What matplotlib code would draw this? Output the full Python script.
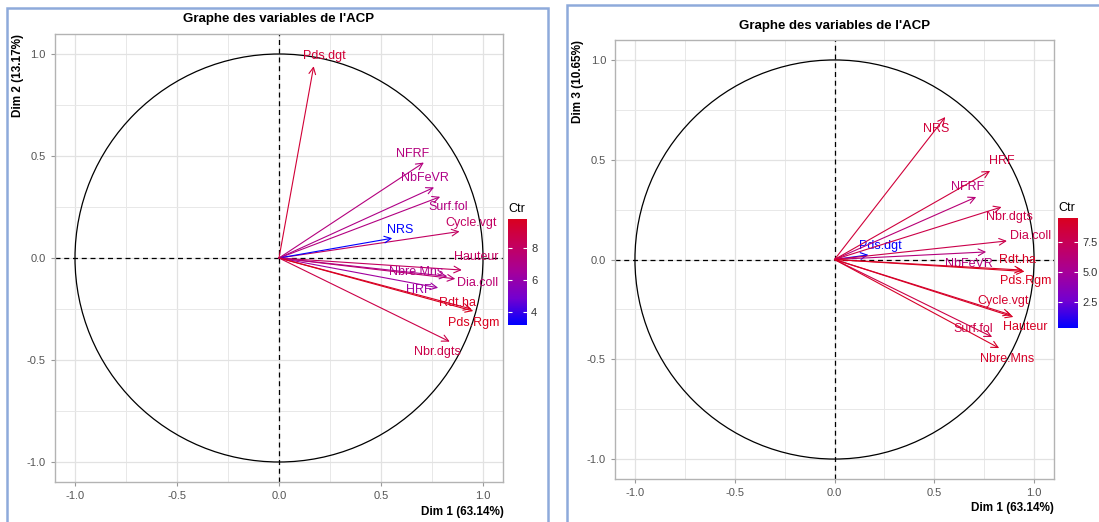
import matplotlib
matplotlib.use("Agg")
import matplotlib.pyplot as plt
from matplotlib.patches import Circle, Rectangle
from matplotlib.colors import LinearSegmentedColormap, Normalize
from matplotlib.cm import ScalarMappable
from matplotlib.ticker import FormatStrFormatter

plt.rcParams['font.family'] = ['Liberation Sans', 'DejaVu Sans']

# coordonnees des variables sur les axes
variables = ["Pds.dgt", "NFRF", "NbFeVR", "Surf.fol", "Cycle.vgt", "NRS", "Hauteur",
             "Nbre.Mns", "Dia.coll", "HRF", "Rdt.ha", "Pds.Rgm", "Nbr.dgts"]
dim1 = [0.17, 0.71, 0.76, 0.79, 0.885, 0.555, 0.896, 0.825, 0.864, 0.78, 0.943, 0.952, 0.837]
dim2 = [0.94, 0.468, 0.346, 0.30, 0.13, 0.097, -0.059, -0.09, -0.102, -0.146, -0.25, -0.26, -0.41]
dim3 = [0.023, 0.313, 0.038, -0.388, -0.278, 0.714, -0.288, -0.444, 0.093, 0.444, -0.053, -0.06, 0.263]

# contributions (Ctr)
ctr12 = [9.20, 7.29, 7.03, 7.20, 8.07, 3.20, 8.13, 6.94, 7.63, 6.35, 9.59, 9.82, 8.75]
ctr13 = [0.31, 6.28, 6.04, 8.08, 8.97, 8.53, 9.24, 9.16, 7.87, 8.40, 9.30, 9.49, 8.02]

pct = {1: "63.14", 2: "13.17", 3: "10.65"}

# decalage des etiquettes par rapport a la pointe des fleches
lab_off12 = {"Pds.dgt": (0.05, 0.05), "NFRF": (-0.054, 0.044), "NbFeVR": (-0.044, 0.044),
             "Surf.fol": (0.038, -0.051), "Cycle.vgt": (0.056, 0.041), "NRS": (0.04, 0.04),
             "Hauteur": (0.069, 0.064), "Nbre.Mns": (-0.154, 0.022), "Dia.coll": (0.108, -0.02),
             "HRF": (-0.094, -0.01), "Rdt.ha": (-0.067, 0.03), "Pds.Rgm": (0.0, -0.057),
             "Nbr.dgts": (-0.06, -0.049)}
lab_off13 = {"Pds.dgt": (0.058, 0.043), "NFRF": (-0.041, 0.05), "NbFeVR": (-0.085, -0.062),
             "Surf.fol": (-0.095, 0.04), "Cycle.vgt": (-0.04, 0.07), "NRS": (-0.045, -0.06),
             "Hauteur": (0.058, -0.05), "Nbre.Mns": (0.04, -0.055), "Dia.coll": (0.117, 0.023),
             "HRF": (0.06, 0.05), "Rdt.ha": (-0.025, 0.048), "Pds.Rgm": (0.005, -0.05),
             "Nbr.dgts": (0.04, -0.05)}

cmap = LinearSegmentedColormap.from_list(
    "ctr", [(0, "#0000FF"), (0.25, "#7300D0"), (0.5, "#A5009A"), (0.75, "#C4005E"), (1, "#D9001F")])

W, H = 1099, 522
fig = plt.figure(figsize=(W / 100, H / 100), dpi=100)


def frac(x0, y0, x1, y1):
    # pixels (origine en haut a gauche) -> fraction de figure
    return [x0 / W, (H - y1) / H, (x1 - x0) / W, (y1 - y0) / H]


def draw_panel(rect, cbrect, ydim, yvals, ctr, offs, cbticks, cbfmt):
    ax = fig.add_axes(frac(*rect))
    ax.set_xlim(-1.1, 1.1)
    ax.set_ylim(-1.1, 1.1)
    ticks = [-1, -0.5, 0, 0.5, 1]
    ax.set_xticks(ticks)
    ax.set_yticks(ticks)
    ax.set_xticklabels(["-1.0", "-0.5", "0.0", "0.5", "1.0"])
    ax.set_yticklabels(["-1.0", "-0.5", "0.0", "0.5", "1.0"])
    ax.set_xticks([-0.75, -0.25, 0.25, 0.75], minor=True)
    ax.set_yticks([-0.75, -0.25, 0.25, 0.75], minor=True)
    ax.grid(which='major', color='#E2E2E2', lw=0.9)
    ax.grid(which='minor', color='#E8E8E8', lw=0.7)
    ax.set_axisbelow(True)
    ax.tick_params(which='major', length=3, color='#999999', labelsize=8, labelcolor='#555555')
    ax.tick_params(which='minor', length=0)
    for s in ax.spines.values():
        s.set_color('#B3B3B3')
        s.set_linewidth(1.0)

    ax.add_patch(Circle((0, 0), 1, fill=False, color='black', lw=0.9))
    ax.axhline(0, color='black', ls=(0, (4, 3)), lw=0.9)
    ax.axvline(0, color='black', ls=(0, (4, 3)), lw=0.9)

    norm = Normalize(min(ctr), max(ctr))
    for name, x, y, c in zip(variables, dim1, yvals, ctr):
        col = cmap(norm(c))
        ax.annotate('', xy=(x, y), xytext=(0, 0),
                    arrowprops=dict(arrowstyle='->', color=col, lw=0.8,
                                    shrinkA=0, shrinkB=0, mutation_scale=12))
        dx, dy = offs[name]
        ax.text(x + dx, y + dy, name, color=col, fontsize=9, ha='center', va='center')

    ax.set_title("Graphe des variables de l'ACP", fontsize=9.5, fontweight='bold', pad=8)
    ax.set_xlabel("Dim 1 (%s%%)" % pct[1], fontsize=8.5, fontweight='bold', loc='right', labelpad=3)
    ax.set_ylabel("Dim %d (%s%%)" % (ydim, pct[ydim]), fontsize=8.5, fontweight='bold', loc='top', labelpad=2)

    cax = fig.add_axes(frac(*cbrect))
    cb = fig.colorbar(ScalarMappable(norm=norm, cmap=cmap), cax=cax)
    cb.outline.set_visible(False)
    cb.set_ticks(cbticks)
    cax.yaxis.set_major_formatter(FormatStrFormatter(cbfmt))
    cax.tick_params(left=True, right=True, direction='in', color='white', length=3,
                    width=0.8, labelsize=8, labelcolor='#333333', pad=3)
    cax.set_title("Ctr", fontsize=9, loc='left', pad=5)
    return ax


draw_panel((54.6, 33.6, 503.4, 482.4), (508, 219, 527, 325), 2, dim2, ctr12,
           lab_off12, [4, 6, 8], '%d')
draw_panel((615, 40, 1054, 479), (1058, 218, 1078, 328), 3, dim3, ctr13,
           lab_off13, [2.5, 5.0, 7.5], '%.1f')

# cadres bleus de la capture
fig.patches.append(Rectangle((7 / W, -0.1), (548 - 7) / W, (H - 8) / H + 0.1,
                             transform=fig.transFigure, fill=False, ec='#8EAADB', lw=1.8))
fig.patches.append(Rectangle((567 / W, -0.1), 0.6, (H - 5) / H + 0.1,
                             transform=fig.transFigure, fill=False, ec='#8EAADB', lw=1.8))

fig.savefig("out.png", dpi=100)
